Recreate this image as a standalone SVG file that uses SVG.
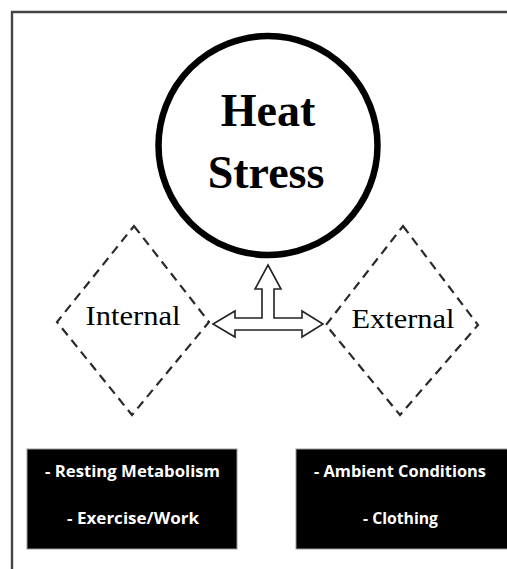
<svg xmlns="http://www.w3.org/2000/svg" width="507" height="569" viewBox="0 0 507 569">
  <style>
    .frame { fill: none; stroke: #444; stroke-width: 2.4; }
    .diamond { fill: none; stroke: #2a2a2a; stroke-width: 2.2; stroke-dasharray: 9 6; }
    .serif { font-family: "Liberation Serif", "Times New Roman", serif; fill: #000; text-anchor: middle; }
    .title { font-size: 46px; font-weight: bold; }
    .label { font-size: 28px; }
    .box { fill: #000; stroke: #999; stroke-width: 1; }
    .item { font-family: "Open Sans", "Liberation Sans", sans-serif; font-weight: bold; font-size: 16px; fill: #fff; text-anchor: middle; }
  </style>
  <rect width="507" height="569" fill="#fff"/>
  <!-- page frame, running off the right and bottom edges -->
  <path class="frame" d="M12,569 V12 H507"/>

  <g id="heat-stress">
    <circle cx="268" cy="145.5" r="109.5" fill="none" stroke="#000" stroke-width="6.5"/>
    <text class="serif title" x="268" y="126">Heat</text>
    <text class="serif title" x="266" y="188">Stress</text>
  </g>

  <g id="internal">
    <polygon class="diamond" points="134,226 209,322 132,415 57,322"/>
    <text class="serif label" x="133" y="325" textLength="95" lengthAdjust="spacingAndGlyphs">Internal</text>
  </g>

  <g id="external">
    <polygon class="diamond" points="403,226 478,325 400,415 326,325"/>
    <text class="serif label" x="403" y="328" textLength="103" lengthAdjust="spacingAndGlyphs">External</text>
  </g>

  <g id="connectors">
    <path d="M268,265 L281,289 L274,289 L274,318 L302,318 L302,311 L323,324 L302,337 L302,330 L235,330 L235,337 L213,324 L235,311 L235,318 L262,318 L262,289 L255,289 Z"
          fill="#fff" stroke="#222" stroke-width="1.6" stroke-linejoin="miter"/>
  </g>

  <g id="internal-factors">
    <rect class="box" x="27" y="449" width="210" height="100"/>
    <text class="item" x="132.5" y="477" textLength="175" lengthAdjust="spacingAndGlyphs">- Resting Metabolism</text>
    <text class="item" x="133" y="524" textLength="132" lengthAdjust="spacingAndGlyphs">- Exercise/Work</text>
  </g>

  <g id="external-factors">
    <rect class="box" x="296" y="449" width="216" height="100"/>
    <text class="item" x="400" y="477" textLength="172" lengthAdjust="spacingAndGlyphs">- Ambient Conditions</text>
    <text class="item" x="400.5" y="524" textLength="75" lengthAdjust="spacingAndGlyphs">- Clothing</text>
  </g>
</svg>
